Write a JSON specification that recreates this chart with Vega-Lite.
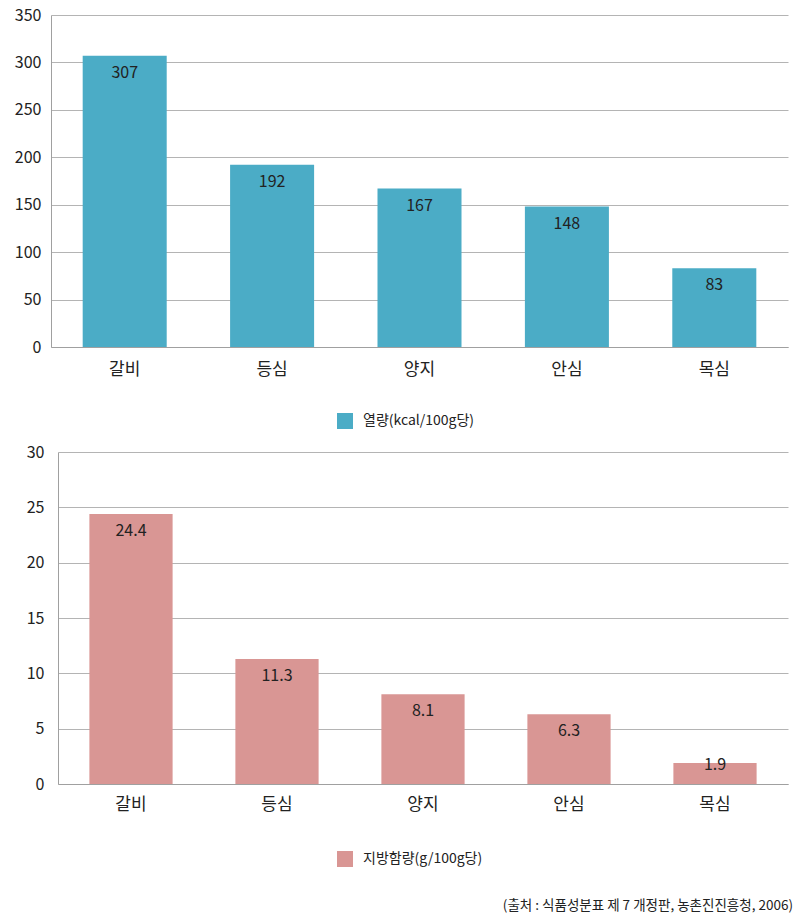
{
  "$schema": "https://vega.github.io/schema/vega-lite/v6.json",
  "padding": {"left": 14, "top": 7, "right": 5, "bottom": 5},
  "background": "white",
  "config": {
    "font": "Noto Sans CJK KR",
    "view": {"stroke": null},
    "concat": {"spacing": 15},
    "axis": {"labelFont": "Noto Sans CJK KR", "labelColor": "#222222", "labelFontSize": 16, "domainColor": "#a0a0a0", "gridColor": "#b4b4b4", "ticks": false, "tickSize": 0, "title": null},
    "legend": {"labelFont": "Noto Sans CJK KR", "labelFontSize": 14, "labelColor": "#222222", "symbolType": "square", "symbolSize": 256, "symbolStrokeWidth": 0, "padding": 0, "labelOffset": 10, "title": null}
  },
  "title": {"text": "(출처 : 식품성분표 제 7 개정판, 농촌진진흥청, 2006)", "orient": "bottom", "anchor": "end", "fontSize": 13.5, "fontWeight": "normal", "color": "#222222", "font": "Noto Sans CJK KR", "offset": 32, "dx": 5},
  "vconcat": [
    {
      "width": 737,
      "height": 332,
      "data": {"values": [
        {"part": "갈비", "value": 307, "series": "열량(kcal/100g당)"},
        {"part": "등심", "value": 192, "series": "열량(kcal/100g당)"},
        {"part": "양지", "value": 167, "series": "열량(kcal/100g당)"},
        {"part": "안심", "value": 148, "series": "열량(kcal/100g당)"},
        {"part": "목심", "value": 83, "series": "열량(kcal/100g당)"}
      ]},
      "encoding": {
        "x": {"field": "part", "type": "nominal", "sort": null, "scale": {"paddingInner": 0.43, "paddingOuter": 0.215},
              "axis": {"labelAngle": 0, "labelFontSize": 17, "labelPadding": 14, "grid": false}},
        "y": {"field": "value", "type": "quantitative", "scale": {"domain": [0, 350], "nice": false},
              "axis": {"values": [0, 50, 100, 150, 200, 250, 300, 350], "labelPadding": 10, "grid": true, "domain": true}}
      },
      "layer": [
        {"mark": {"type": "bar", "color": "#4BACC6"},
         "encoding": {"color": {"field": "series", "type": "nominal", "scale": {"range": ["#4BACC6"]},
                                "legend": {"orient": "none", "legendX": 286, "legendY": 398}}}},
        {"mark": {"type": "text", "baseline": "middle", "dy": 17, "fontSize": 16, "color": "#222222"},
         "encoding": {"text": {"field": "value", "type": "quantitative", "format": "d"}}}
      ]
    },
    {
      "width": 737,
      "height": 332,
      "data": {"values": [
        {"part": "갈비", "value": 24.4, "series": "지방함량(g/100g당)"},
        {"part": "등심", "value": 11.3, "series": "지방함량(g/100g당)"},
        {"part": "양지", "value": 8.1, "series": "지방함량(g/100g당)"},
        {"part": "안심", "value": 6.3, "series": "지방함량(g/100g당)"},
        {"part": "목심", "value": 1.9, "series": "지방함량(g/100g당)"}
      ]},
      "encoding": {
        "x": {"field": "part", "type": "nominal", "sort": null, "scale": {"range": [7, 737], "paddingInner": 0.43, "paddingOuter": 0.215},
              "axis": {"labelAngle": 0, "labelFontSize": 17, "labelPadding": 12, "grid": false}},
        "y": {"field": "value", "type": "quantitative", "scale": {"domain": [0, 30], "nice": false},
              "axis": {"values": [0, 5, 10, 15, 20, 25, 30], "labelPadding": 14, "offset": -7, "grid": true, "domain": true}}
      },
      "layer": [
        {"mark": {"type": "bar", "color": "#D99694"},
         "encoding": {"color": {"field": "series", "type": "nominal", "scale": {"range": ["#D99694"]},
                                "legend": {"orient": "none", "legendX": 286, "legendY": 399}}}},
        {"transform": [{"filter": "datum.value >= 3"}],
         "mark": {"type": "text", "baseline": "middle", "dy": 17, "fontSize": 16, "color": "#222222"},
         "encoding": {"text": {"field": "value", "type": "quantitative", "format": ".1f"}}},
        {"transform": [{"filter": "datum.value < 3"}],
         "mark": {"type": "text", "baseline": "middle", "dy": 2, "fontSize": 16, "color": "#222222"},
         "encoding": {"text": {"field": "value", "type": "quantitative", "format": ".1f"}}}
      ]
    }
  ],
  "resolve": {"scale": {"color": "independent"}, "legend": {"color": "independent"}}
}
